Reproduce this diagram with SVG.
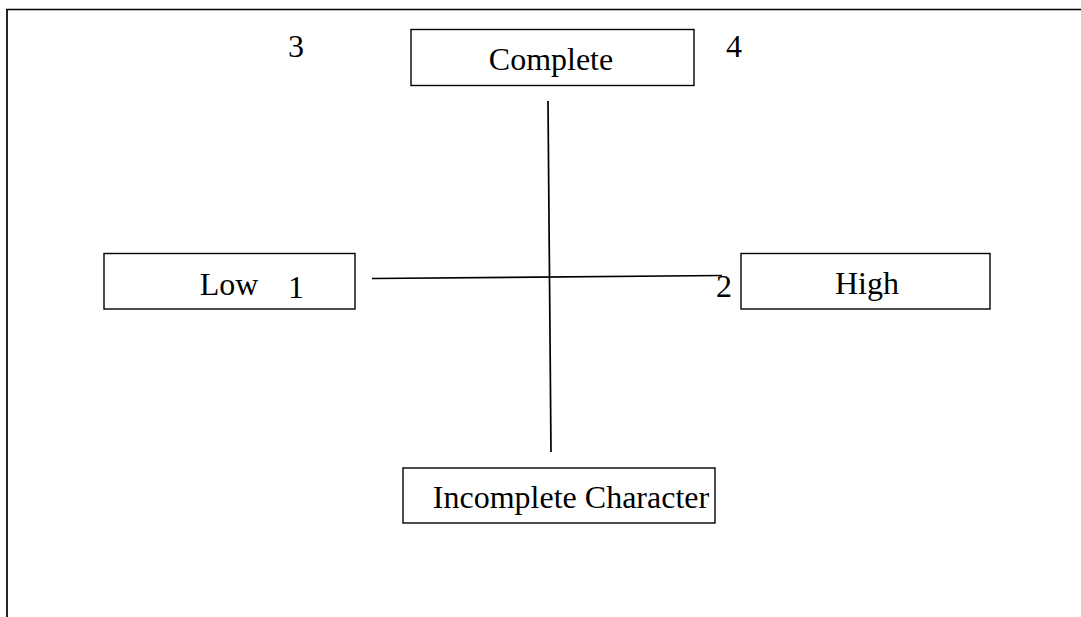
<svg xmlns="http://www.w3.org/2000/svg" width="1081" height="617" viewBox="0 0 1081 617">
<style>
.box{fill:#fff;stroke:#000;stroke-width:1.4}
.t{font-family:"Liberation Serif","Times New Roman",serif;font-size:32px;fill:#000}
.ln{stroke:#000;stroke-width:1.7;fill:none}
</style>
<rect width="1081" height="617" fill="#fff"/>
<g id="frame">
<path class="ln" d="M7,617 V9.5 H1081" stroke-width="2.2"/>
</g>
<g id="connectors">
<line class="ln" x1="548" y1="101" x2="551" y2="452"/>
<line class="ln" x1="372" y1="278.5" x2="722" y2="275.5"/>
</g>
<g id="complete">
<rect class="box" x="411" y="29.5" width="283" height="56"/>
<text class="t" x="551" y="70" text-anchor="middle">Complete</text>
</g>
<g id="incomplete">
<rect class="box" x="403" y="468" width="312" height="55"/>
<text class="t" x="571" y="508" text-anchor="middle">Incomplete Character</text>
</g>
<g id="low">
<rect class="box" x="104" y="253.5" width="251" height="55.5"/>
<text class="t" x="229" y="295" text-anchor="middle">Low</text>
</g>
<g id="high">
<rect class="box" x="741" y="253.5" width="249" height="55.5"/>
<text class="t" x="867" y="294" text-anchor="middle">High</text>
</g>
<g id="numbers">
<text class="t" x="296" y="298" text-anchor="middle">1</text>
<text class="t" x="724" y="297" text-anchor="middle">2</text>
<text class="t" x="296" y="57" text-anchor="middle">3</text>
<text class="t" x="734" y="57" text-anchor="middle">4</text>
</g>
</svg>
